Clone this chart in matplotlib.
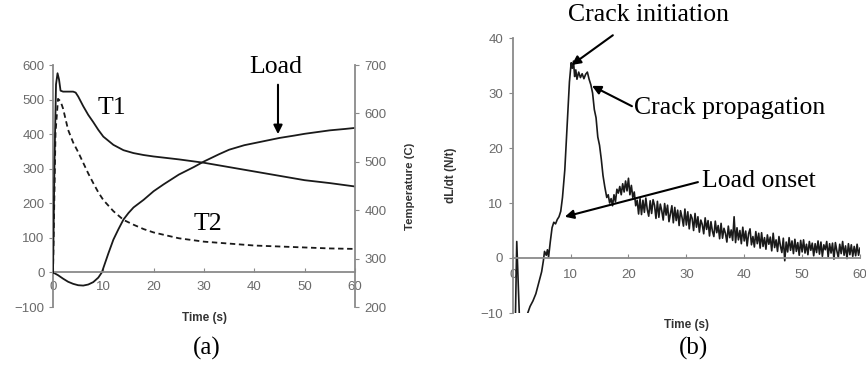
import matplotlib
matplotlib.use('Agg')
import matplotlib.pyplot as plt

# ---------------- Panel (a) data ----------------
load_t = [0, 1, 2, 3, 4, 5, 6, 7, 8, 9, 9.7, 11, 12, 13, 14, 15, 16, 18, 20, 22,
          25, 28, 30, 33, 35, 38, 40, 43, 45, 48, 50, 53, 55, 58, 60]
load_v = [0, -8, -18, -27, -33, -37, -38, -35, -28, -15, 0, 55, 95, 125, 153, 172,
          188, 210, 235, 255, 283, 305, 321, 342, 355, 368, 374, 383, 389, 396,
          401, 407, 411, 415, 418]

t1_t = [0, 0.3, 0.6, 0.9, 1.2, 1.5, 2, 3, 4, 4.5, 5, 6, 7, 8, 9, 10, 12, 14, 16,
        18, 20, 25, 30, 35, 40, 45, 50, 55, 60]
t1_v = [270, 500, 660, 683, 670, 647, 645, 645, 645, 643, 635, 615, 597, 582, 566,
        552, 535, 524, 518, 514, 511, 505, 498, 489, 480, 471, 462, 456, 449]

t2_t = [0, 0.5, 1, 1.5, 2, 3, 4, 5, 6, 7, 8, 9, 10, 12, 14, 16, 18, 20, 25, 30,
        35, 40, 45, 50, 55, 60]
t2_v = [270, 560, 630, 625, 610, 566, 540, 520, 498, 476, 456, 437, 421, 398, 380,
        370, 361, 354, 342, 335, 331, 327, 325, 323, 321, 320]

a_xticks = [0, 10, 20, 30, 40, 50, 60]
a_left_ticks = [-100, 0, 100, 200, 300, 400, 500, 600]
a_right_ticks = [200, 300, 400, 500, 600, 700]

# ---------------- Panel (b) data ----------------
b_t = [0.4, 0.7, 1.3, 1.8, 2.3, 2.6, 3.0, 3.5, 4.0, 4.5, 5.0, 5.3, 5.5, 5.8, 6.0,
       6.2, 6.5, 6.8, 7.1, 7.4, 7.7, 8.0, 8.3, 8.6, 9.0, 9.4, 9.8, 10.1, 10.3,
       10.5, 10.7, 10.9, 11.1, 11.4, 11.7, 12.0, 12.3, 12.6, 12.9, 13.2, 13.5,
       13.8, 14.1, 14.4, 14.7, 15.0, 15.3, 15.6, 15.9,
       16.25, 16.5, 16.75, 17.0, 17.25, 17.5, 17.75, 18.0, 18.25, 18.5, 18.75,
       19.0, 19.25, 19.5, 19.75, 20.0, 20.25, 20.5, 20.75, 21.0, 21.25, 21.5,
       21.75, 22.0, 22.25, 22.5, 22.75, 23.0, 23.25, 23.5, 23.75, 24.0, 24.25,
       24.5, 24.75, 25.0, 25.25, 25.5, 25.75, 26.0, 26.25, 26.5, 26.75, 27.0,
       27.25, 27.5, 27.75, 28.0, 28.25, 28.5, 28.75, 29.0, 29.25, 29.5, 29.75,
       30.0, 30.25, 30.5, 30.75, 31.0, 31.25, 31.5, 31.75, 32.0, 32.25, 32.5,
       32.75, 33.0, 33.25, 33.5, 33.75, 34.0, 34.25, 34.5, 34.75, 35.0, 35.25,
       35.5, 35.75, 36.0, 36.25, 36.5, 36.75, 37.0, 37.25, 37.5, 37.75, 38.0,
       38.25, 38.5, 38.75, 39.0, 39.25, 39.5, 39.75, 40.0, 40.25, 40.5, 40.75,
       41.0, 41.25, 41.5, 41.75, 42.0, 42.25, 42.5, 42.75, 43.0, 43.25, 43.5,
       43.75, 44.0, 44.25, 44.5, 44.75, 45.0, 45.25, 45.5, 45.75, 46.0, 46.25,
       46.5, 46.75, 47.0, 47.25, 47.5, 47.75, 48.0, 48.25, 48.5, 48.75, 49.0,
       49.25, 49.5, 49.75, 50.0, 50.25, 50.5, 50.75, 51.0, 51.25, 51.5, 51.75,
       52.0, 52.25, 52.5, 52.75, 53.0, 53.25, 53.5, 53.75, 54.0, 54.25, 54.5,
       54.75, 55.0, 55.25, 55.5, 55.75, 56.0, 56.25, 56.5, 56.75, 57.0, 57.25,
       57.5, 57.75, 58.0, 58.25, 58.5, 58.75, 59.0, 59.25, 59.5, 59.75, 60.0]
b_v = [-15, 3, -15, -18, -11, -10, -8.8, -7.8, -6.5, -4.5, -2.5, -0.5, 1.2, 0.5,
       1.5, 0.2, 3.0, 5.5, 6.5, 6.2, 7.0, 7.5, 8.5, 11, 16, 24, 32, 35.5, 34.5,
       35.8, 33.0, 34.2, 32.5, 33.8, 32.8, 33.5, 32.6, 33.4, 33.8, 32.5, 31.5,
       30.0, 27.0, 25.5, 22.0, 20.5, 18.0, 15.0, 13.0,
       11.0, 11.5, 10.0, 10.8, 9.5, 11.5, 10.2, 12.5, 11.8, 13.0, 11.5,
       13.5, 12.0, 14.0, 12.2, 14.5, 11.5, 13.2, 11.0, 12.0, 9.5, 10.5,
       8.0,
       10.8, 7.9, 10.5, 8.3,
       10.9, 8.8, 7.6, 10.4,
       8.1, 10.6, 9.6, 7.2,
       10.3, 7.4, 9.8, 8.6,
       6.9, 9.9, 7.8, 9.6,
       6.6, 8.0, 9.5, 6.4,
       9.2, 6.8, 8.7, 5.9,
       8.6, 7.4, 5.8, 8.9,
       6.0, 8.4, 5.3, 7.9,
       7.2, 5.0, 8.1, 5.6,
       7.5, 4.7, 6.9, 6.1,
       4.4, 7.3, 5.2, 6.8,
       4.0, 6.6, 4.9, 3.9,
       6.7, 4.6, 5.9, 3.5,
       6.3, 3.6, 5.4, 4.5,
       2.9, 5.8, 3.7, 5.1,
       3.2, 7.5, 2.8, 5.5,
       3.3, 5.0, 2.6, 5.6,
       3.1, 4.9, 2.2, 4.4,
       5.3, 2.4, 3.9, 2.0,
       4.8, 2.6, 4.5, 1.8,
       4.6, 2.1, 3.7, 1.6,
       4.2, 2.5, 3.8, 1.3,
       4.5, 1.9, 3.3, 1.2,
       3.9, 2.2, 1.0, 3.6,
       -0.5, 2.9, 1.1, 3.7,
       1.4, 3.1, 0.8, 3.4,
       1.2, 2.8, 0.5, 3.2,
       1.1, 3.3, 0.9, 2.5,
       0.6, 3.0, 1.4, 2.7,
       0.4, 2.6, 1.0, 3.1,
       0.7, 2.9, 0.3, 2.4,
       1.5, 3.0, 0.2, 2.6,
       0.9, 2.7, -0.2, 2.8,
       1.3, 0.1, 2.5, 0.8,
       3.0, 0.5, 2.2, -0.1,
       2.6, 0.6, 2.4, 0.3,
       2.1, 0.4, 2.5, 0.5,
       1.8]

b_xticks = [0, 10, 20, 30, 40, 50, 60]
b_yticks = [-10, 0, 10, 20, 30, 40]

# ---------------- styling ----------------
SPINE = '#8a8a8a'
TICKC = '#6a6a6a'
LINEC = '#1a1a1a'
TFONT = 'Liberation Sans'
SERIF = 'Liberation Serif'
ANN = 18.5
TICKS = 9.5

fig = plt.figure(figsize=(8.66, 3.67), dpi=100)

# ===== Panel (a) =====
axa = fig.add_axes([53/866, 1-307/367, 302/866, 242/367])
axa.set_xlim(0, 60)
axa.set_ylim(-100, 600)
axr = axa.twinx()
axr.set_ylim(200, 700)

axa.plot(load_t, load_v, color=LINEC, lw=1.3)
axr.plot(t1_t, t1_v, color=LINEC, lw=1.3)
axr.plot(t2_t, t2_v, color=LINEC, lw=1.3, ls=(0, (3, 2)))

for ax in (axa, axr):
    ax.spines['top'].set_visible(False)
axa.spines['right'].set_visible(False)
axr.spines['bottom'].set_visible(False)
axr.spines['left'].set_visible(False)
axa.spines['bottom'].set_position(('data', 0))
for s in ('left', 'bottom'):
    axa.spines[s].set_color(SPINE)
    axa.spines[s].set_linewidth(1.3)
axr.spines['right'].set_color(SPINE)
axr.spines['right'].set_linewidth(1.3)

axa.set_xticks(a_xticks)
axa.set_yticks(a_left_ticks)
axr.set_yticks(a_right_ticks)
axa.tick_params(axis='x', direction='in', length=3, color=SPINE, pad=6,
                labelsize=TICKS, labelcolor=TICKC)
axa.tick_params(axis='y', direction='out', length=3, color=SPINE, pad=3,
                labelsize=TICKS, labelcolor=TICKC)
axr.tick_params(axis='y', direction='out', length=3, color=SPINE, pad=4,
                labelsize=TICKS, labelcolor=TICKC)
for lab in axa.get_xticklabels() + axa.get_yticklabels() + axr.get_yticklabels():
    lab.set_fontfamily(TFONT)

axr.set_ylabel('Temperature (C)', fontsize=8.2, fontweight='bold', color='#333333',
               family=TFONT)
axr.yaxis.set_label_coords(1.165, 0.5)

axa.text(44.3, 594, 'Load', fontsize=ANN, family=SERIF, ha='center', va='center')
axa.annotate('', xy=(44.7, 400), xytext=(44.7, 543),
             arrowprops=dict(arrowstyle='-|>', lw=1.5, color='black',
                             mutation_scale=13, shrinkA=0, shrinkB=0))
axa.text(11.7, 477, 'T1', fontsize=ANN, family=SERIF, ha='center', va='center')
axa.text(30.8, 139, 'T2', fontsize=ANN, family=SERIF, ha='center', va='center')

fig.text(205/866, 1-318/367, 'Time (s)', fontsize=8.5, fontweight='bold',
         color='#333333', family=TFONT, ha='center', va='center')
fig.text(207/866, 1-348/367, '(a)', fontsize=18, family=SERIF, ha='center',
         va='center')

# ===== Panel (b) =====
axb = fig.add_axes([512.7/866, 1-313/367, 347.3/866, 275/367])
axb.set_xlim(0, 60)
axb.set_ylim(-10, 40)
axb.plot(b_t, b_v, color=LINEC, lw=1.2)
axb.spines['top'].set_visible(False)
axb.spines['right'].set_visible(False)
axb.spines['bottom'].set_position(('data', 0))
for s in ('left', 'bottom'):
    axb.spines[s].set_color(SPINE)
    axb.spines[s].set_linewidth(1.3)
axb.set_xticks(b_xticks)
axb.set_yticks(b_yticks)
axb.tick_params(axis='x', direction='in', length=3, color=SPINE, pad=8,
                labelsize=TICKS, labelcolor=TICKC)
axb.tick_params(axis='y', direction='out', length=3, color=SPINE, pad=4,
                labelsize=TICKS, labelcolor=TICKC)
for lab in axb.get_xticklabels() + axb.get_yticklabels():
    lab.set_fontfamily(TFONT)
axb.set_ylabel('dL/dt (N/t)', fontsize=8.5, fontweight='bold', color='#333333',
               family=TFONT)
axb.yaxis.set_label_coords(-0.16, 0.5)

axb.text(23.5, 44.2, 'Crack initiation', fontsize=ANN, family=SERIF,
         ha='center', va='center', clip_on=False)
axb.annotate('', xy=(10.2, 35.1), xytext=(17.3, 40.5), annotation_clip=False,
             arrowprops=dict(arrowstyle='-|>', lw=1.5, color='black',
                             mutation_scale=13, shrinkA=0, shrinkB=0))
axb.text(37.4, 27.2, 'Crack propagation', fontsize=ANN, family=SERIF,
         ha='center', va='center')
axb.annotate('', xy=(13.7, 31.3), xytext=(20.6, 27.6),
             arrowprops=dict(arrowstyle='-|>', lw=1.5, color='black',
                             mutation_scale=13, shrinkA=0, shrinkB=0))
axb.text(42.5, 14.0, 'Load onset', fontsize=ANN, family=SERIF,
         ha='center', va='center')
axb.annotate('', xy=(9.0, 7.5), xytext=(32.0, 13.8),
             arrowprops=dict(arrowstyle='-|>', lw=1.5, color='black',
                             mutation_scale=13, shrinkA=0, shrinkB=0))

fig.text(686/866, 1-325/367, 'Time (s)', fontsize=8.5, fontweight='bold',
         color='#333333', family=TFONT, ha='center', va='center')
fig.text(693/866, 1-348/367, '(b)', fontsize=18, family=SERIF, ha='center',
         va='center')

fig.savefig('out.png', dpi=100)
